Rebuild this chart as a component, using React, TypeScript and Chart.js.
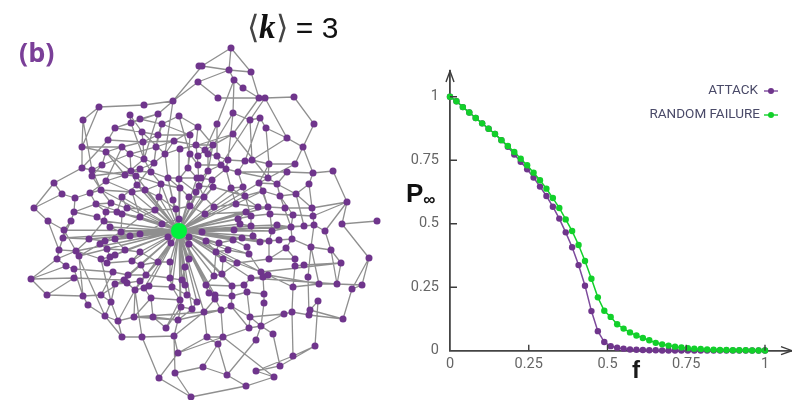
import React, { useEffect, useRef } from "react";
import { Chart, registerables } from "chart.js";

Chart.register(...registerables);

const failureFractions = Array.from({ length: 50 }, (_, i) => i / 49);

const attackValues = [1, .982, .959, .938, .916, .895, .874, .853, .829, .803, .772, .744, .714, .682, .646, .609, .567, .52, .466, .407, .337, .256, .156, .077, .034, .018, .012, .008, .005, .004, .003, .002, .002, .001, .001, .001, .001, .001, .001, .001, .001, .001, .001, .001, .001, .001, .001, .001, .001, .001];
const randomValues = [1, .982, .959, .938, .916, .895, .874, .853, .829, .806, .782, .756, .73, .701, .671, .638, .601, .562, .517, .471, .416, .353, .283, .21, .157, .133, .104, .087, .072, .06, .05, .041, .031, .025, .02, .016, .013, .01, .008, .007, .005, .004, .003, .003, .002, .002, .002, .001, .001, .001];
const tickValues = [0, 0.25, 0.5, 0.75, 1];
const tickLabels = ["0", "0.25", "0.5", "0.75", "1"];

const hubNode = [179, 231];
const nodes = [
199,66,198,82,173,101,144,105,99,107,83,120,130,115,140,119,158,114,179,116,131,123,115,128,162,124,142,132,198,127,158,135,190,135,108,140,143,142,174,141,196,145,82,147,122,147,156,147,180,149,106,152,130,154,165,154,190,154,144,159,154,163,198,156,82,168,102,165,188,168,198,165,92,170,131,171,140,169,151,172,125,175,136,176,92,176,54,183,106,181,168,178,179,179,197,178,137,185,161,184,180,188,199,186,62,194,75,198,90,193,101,190,132,192,145,190,122,197,159,197,173,200,189,197,196,192,
231,48,202,66,229,70,251,72,234,80,243,88,218,98,259,98,265,98,294,97,233,113,260,118,250,120,314,124,266,128,217,124,233,134,287,138,303,147,213,145,205,150,208,154,217,156,228,160,245,161,252,160,269,164,295,164,221,165,226,169,208,171,238,172,287,172,313,173,333,171,212,180,268,178,259,183,277,184,309,184,213,187,231,188,243,187,263,191,204,197,245,196,280,196,296,194,201,178,
34,208,48,221,74,212,71,221,96,204,111,203,127,208,106,212,117,212,122,214,97,217,104,221,140,217,155,210,176,209,190,206,179,219,162,224,110,227,64,230,63,238,89,239,121,232,140,234,130,236,115,239,105,241,100,244,168,237,171,243,189,237,189,244,59,250,76,251,79,256,107,249,125,250,140,252,115,255,110,257,57,259,101,259,107,263,132,261,141,265,158,262,170,262,189,259,66,266,74,269,185,267,113,272,128,275,146,275,31,279,74,278,170,278,182,280,124,280,115,284,127,283,140,281,185,285,135,290,149,286,144,288,172,287,47,295,83,296,101,295,151,298,187,295,180,300,197,302,111,302,88,305,181,307,192,309,105,316,134,317,153,317,118,321,178,320,166,328,122,337,142,337,174,336,178,353,175,373,159,378,191,397,
347,202,342,224,377,221,369,258,214,207,236,204,258,207,268,207,285,208,312,208,205,214,246,212,251,216,270,214,293,215,313,216,238,219,240,224,251,226,277,225,291,227,304,226,314,225,325,231,202,232,234,230,272,231,253,236,206,241,219,243,233,240,242,238,260,242,269,241,279,240,292,239,247,247,311,247,331,250,286,248,216,252,228,250,249,254,223,259,269,259,295,259,237,263,341,263,295,266,304,265,222,274,214,276,261,272,268,275,263,277,251,278,308,277,319,284,337,284,362,285,352,289,293,287,206,285,232,286,244,285,209,293,215,295,232,296,247,292,264,294,215,299,264,303,231,306,318,301,310,310,309,315,292,312,284,314,343,319,204,312,221,310,250,317,249,328,261,326,273,334,207,337,223,337,256,340,218,344,315,346,293,356,280,366,256,371,203,367,227,375,274,377,246,386,
];

const hubTargets = [
135,290,149,286,144,288,172,287,170,278,182,280,185,285,187,295,180,300,197,302,192,309,181,307,158,262,170,262,189,259,185,267,146,275,128,275,124,280,141,265,132,261,140,252,125,250,115,255,110,257,107,249,105,241,89,239,79,256,76,251,63,238,64,230,110,227,121,232,140,234,130,236,140,217,162,224,155,210,176,209,179,219,190,206,168,237,171,243,189,237,189,244,127,208,117,212,104,221,96,204,202,232,205,214,214,207,236,204,238,219,240,224,234,230,233,240,242,238,206,241,219,243,216,252,228,250,223,259,237,263,249,254,253,236,260,242,272,231,269,241,291,227,304,226,251,226,251,216,268,207,258,207,246,212,199,186,197,178,208,171,212,180,213,187,231,188,243,187,263,191,259,183,196,192,189,197,180,188,179,179,168,178,161,184,159,197,145,190,132,192,137,185,136,176,122,197,101,190,204,197,245,196,206,285,209,293,215,295,232,286,222,274,214,276,204,312,221,310,261,272,251,278,
];

const edgePaths = [
[231,48,202,66,173,101,158,114],[231,48,251,72,259,98],[231,48,229,70],[202,66,229,70,251,72],[198,82,229,70],[198,82,173,101],[198,82,218,98],[234,80,243,88,259,98],
[229,70,234,80,217,124],[218,98,259,98,265,98,294,97,314,124,303,147,287,138,265,98],[303,147,295,164,268,178],[303,147,313,173,333,171,347,202],[287,172,313,173],[238,172,287,172],
[233,113,250,120,260,118],[265,98,250,120,252,160],[259,98,233,134],[260,118,245,161],[287,138,266,128,260,118],[266,128,269,164],[287,138,252,160],[233,134,268,178],
[217,124,205,150],[234,80,233,113,228,160],[233,134,213,145,208,171],[233,134,198,145],[269,164,268,178],[287,172,277,184,259,183],[309,184,313,173],[309,184,313,216],
[347,202,342,224,377,221],[342,224,369,258,362,285,352,289,343,319,309,315],[369,258,352,289],[362,285,337,284,319,284,293,287],[337,284,331,250,325,231],[347,202,325,231],[331,250,341,263,304,265],[341,263,337,284],[313,216,347,202],
[293,287,292,312,293,356,315,346,318,301,310,310,309,315,292,312,284,314,250,317],[315,346,280,366,256,371],[293,356,256,371],[280,366,273,334,261,326,249,328],[274,377,246,386,227,375,203,367],[274,377,256,371],[227,375,256,340],[227,375,218,344],[223,337,218,344],[223,337,221,310],[223,337,274,377],
[264,303,261,326],[284,314,261,326],[311,247,319,284],[311,247,308,277],[191,397,159,378,178,353,207,337],[159,378,142,337,122,337,105,316,88,305,83,296,47,295,31,279,57,259],[47,295,74,278],[175,373,191,397],[175,373,203,367],[175,373,174,336],[191,397,246,386],
[142,337,174,336,178,320,181,307],[142,337,135,290],[122,337,118,321],[166,328,180,300],[166,328,153,317,134,317,118,321,111,302,115,284],[134,317,178,320],[105,316,111,302,101,295],[83,296,101,295,124,280],[83,296,74,269],
[31,279,66,266,57,259,76,251],[31,279,74,278],[57,259,59,250,63,238,64,230,71,221,74,212],[48,221,64,230],[34,208,48,221,59,250],[34,208,54,183],[34,208,62,194],[54,183,82,168,92,170,125,175],[54,183,62,194,75,198],[82,168,82,147,83,120,99,107,144,105,173,101],[99,107,82,147],[82,147,122,147],[82,168,108,140,115,128,131,123,158,114],[83,120,92,170],[130,115,131,123,144,159],[140,119,115,128],
[131,171,140,169,154,163,165,154,180,149,198,145],[92,176,131,171,151,172,168,178,197,178],[106,181,125,175,136,176,161,184,180,188],[102,165,130,154,156,147,174,141,196,145],[106,152,122,147,143,142,158,135,190,135],[108,140,143,142,174,141,198,127],[115,128,142,132,158,135,162,124,179,116,198,127],[131,123,140,119,162,124,190,135],[140,119,158,114,173,101],[130,115,142,132,143,142,144,159,151,172,161,184,159,197],[158,114,144,159,125,175,106,181,90,193,75,198],[162,124,156,147,154,163,137,185,122,197],[173,101,165,154,168,178,180,188,189,197],[179,116,190,154,188,168,179,179,196,192],[190,135,188,168,197,178],[198,127,196,145,198,165,199,186,204,197],[130,154,131,171,137,185,145,190,159,197],[106,152,102,165,92,176,101,190,90,193],[82,147,106,152,131,171],[92,170,102,165],[101,190,132,192,145,190,161,184],[122,147,130,154,144,159,154,163],[174,141,165,154],
[75,198,74,212,96,204,111,203,127,208,155,210,176,209,190,206],[96,204,106,212,117,212,122,214,140,217,155,210],[74,212,97,217,104,221,110,227,121,232],[111,203,106,212,104,221,89,239,76,251],[71,221,63,238,89,239,105,241,115,239,130,236,140,234,162,224,179,219],[64,230,76,251,79,256,100,244,107,249,110,257,101,259,107,263,132,261,141,265,158,262,170,262],[63,238,59,250,76,251,101,259],[57,259,66,266,74,269,113,272,128,275,146,275,170,278],[74,278,124,280,115,284,127,283,140,281,146,275],[79,256,83,296,88,305],[76,251,105,316],[101,259,111,302],[113,272,101,295],[121,232,122,214],[115,239,125,250,115,255,110,257],[107,249,125,250,140,252,132,261],[130,236,121,232,105,241],[140,252,158,262],[140,217,121,232],[162,224,140,217],[124,280,135,290,144,288,149,286,172,287,187,295],[128,275,127,283,135,290,134,317],[141,265,146,275,140,281,135,290,142,337],[151,298,144,288],[151,298,134,317],[151,298,153,317],[151,298,180,300],[118,321,135,290],[105,316,118,321],[180,300,181,307,192,309,197,302,187,295,185,285,182,280,170,278,172,287,180,300],[170,262,170,278],[158,262,146,275],[189,259,185,267,182,280],[189,244,189,259],[178,320,192,309],[178,320,153,317],[181,307,166,328],[174,336,204,312],[178,353,174,336],[178,353,223,337],[178,320,221,310],[134,317,204,312],
[206,241,219,243,233,240,242,238,260,242,269,241,279,240,292,239,311,247,331,250],[202,232,234,230,272,231,291,227,304,226,314,225,325,231],[205,214,214,207,236,204,258,207,268,207,285,208,312,208,347,202],[205,214,246,212,251,216,270,214,293,215,313,216],[238,219,240,224,251,226,277,225,291,227],[246,212,238,219],[251,216,251,226,253,236,260,242],[270,214,272,231,269,241,269,259,295,259,295,266,304,265],[293,215,291,227,292,239,286,248,269,259],[312,208,313,216,314,225,311,247,308,277],[216,252,228,250,249,254,247,247,233,240,219,243,216,252,223,259,237,263,269,259],[206,241,216,252,214,276,206,285,209,293,215,295,215,299,204,312],[223,259,222,274,214,276],[237,263,222,274],[232,286,222,274],[232,286,244,285,251,278,263,277,268,275,261,272,237,263],[232,286,232,296,231,306,221,310,204,312],[215,295,232,296,247,292,264,294],[244,285,247,292],[263,277,264,294,264,303],[268,275,293,287,295,266],[249,254,261,272],[286,248,295,259],[206,285,232,286],[221,310,231,306,250,317],[250,317,249,328,223,337,207,337],[261,326,250,317,247,292],[204,312,207,337,218,344],[261,272,341,263],[268,275,319,284],[251,278,337,284],[308,277,309,315],[231,306,249,328],[310,310,343,319],[203,367,218,344],[261,326,256,340],
[204,197,213,187,212,180,201,178,208,171,221,165,226,169,238,172,268,178,259,183,263,191,280,196,296,194],[205,150,208,154,217,156,228,160,245,161,252,160,269,164,295,164],[213,145,208,154,208,171],[217,124,217,156,221,165],[228,160,226,169,212,180],[231,188,243,187,245,196,263,191],[226,169,231,188,258,207],[238,172,243,187],[245,161,238,172],[269,164,259,183],[213,187,245,196],[204,197,214,207],[231,188,236,204],[245,196,251,216],[263,191,270,214],[280,196,293,215],[296,194,312,208],[309,184,296,194,277,184,268,178],[277,184,280,196,291,227],[259,183,268,207],[296,194,304,226],[199,186,213,187],[204,197,189,197],[198,165,221,165],[198,156,205,150],[190,206,205,214],[189,197,190,206],[176,209,159,197],[198,145,213,145],[205,150,196,145],[233,134,205,150],[250,120,221,165],[233,113,208,154],[213,145,198,127],[155,210,159,197],[140,217,132,192],[127,208,122,197],[111,203,101,190],[96,204,90,193],[176,209,173,200],[117,212,122,197],
[158,135,154,163],[142,132,165,154],[122,147,106,181],[140,169,136,176],[179,149,179,179],[190,154,198,165],[168,178,173,200],[106,181,132,192],[92,170,101,190],[106,152,125,175],
];

const PURPLE = "#6f358c";
const HUB_GREEN = "#00f23c";
const LINE_GREEN = "#12d02a";
const LINE_PURPLE = "#7d4a9c";
const EDGE = "rgba(105,105,105,0.75)";
const AXIS = "#444444";
const SANS = '"Liberation Sans", sans-serif';
const TICK_FONT = { family: '"Roboto", ' + SANS, size: 14.5 };

const toPoints = (flat: number[]) => {
  const out: { x: number; y: number }[] = [];
  for (let i = 0; i < flat.length; i += 2) out.push({ x: flat[i], y: flat[i + 1] });
  return out;
};

const buildEdges = () => {
  const out: { x: number; y: number }[] = [];
  for (const path of edgePaths) {
    out.push(...toPoints(path), { x: NaN, y: NaN });
  }
  for (const t of toPoints(hubTargets)) {
    out.push({ x: hubNode[0], y: hubNode[1] }, t, { x: NaN, y: NaN });
  }
  return out;
};

const axisDecor = {
  id: "axisDecor",
  afterDatasetsDraw(chart: any) {
    const { ctx, scales, chartArea } = chart;
    const { x, y } = scales;
    const x0 = x.getPixelForValue(0);
    const y0 = y.getPixelForValue(0);
    ctx.save();
    ctx.strokeStyle = "#3c3c3c";
    ctx.lineWidth = 1.4;
    ctx.beginPath();
    for (const v of tickValues) {
      if (v === 0) continue;
      ctx.moveTo(x.getPixelForValue(v), y0);
      ctx.lineTo(x.getPixelForValue(v), y0 - 6);
      ctx.moveTo(x0, y.getPixelForValue(v));
      ctx.lineTo(x0 + 7, y.getPixelForValue(v));
    }
    // arrow heads
    ctx.moveTo(x0 - 4, chartArea.top + 11);
    ctx.lineTo(x0, chartArea.top);
    ctx.lineTo(x0 + 4, chartArea.top + 11);
    ctx.moveTo(chartArea.right - 11, y0 - 4);
    ctx.lineTo(chartArea.right, y0);
    ctx.lineTo(chartArea.right - 11, y0 + 4);
    ctx.stroke();
    ctx.restore();
  },
};

const keyDecor = {
  id: "keyDecor",
  afterDatasetsDraw(chart: any) {
    const { ctx } = chart;
    const rows = [
      { ds: chart.data.datasets[0], right: 358, y: 91 },
      { ds: chart.data.datasets[1], right: 360, y: 115 },
    ];
    ctx.save();
    for (const r of rows) {
      ctx.font = `13.5px "Roboto", ${SANS}`;
      ctx.fillStyle = "#4a4a68";
      ctx.textAlign = "right";
      ctx.textBaseline = "middle";
      ctx.fillText(r.ds.label, r.right, r.y);
      ctx.strokeStyle = r.ds.borderColor;
      ctx.lineWidth = 1.4;
      ctx.beginPath();
      ctx.moveTo(364, r.y);
      ctx.lineTo(378, r.y);
      ctx.stroke();
      ctx.fillStyle = r.ds.pointBackgroundColor;
      ctx.beginPath();
      ctx.arc(371, r.y, 3, 0, Math.PI * 2);
      ctx.fill();
    }
    ctx.restore();
  },
};

const text = (style: React.CSSProperties, children: React.ReactNode) => (
  <div style={{ position: "absolute", whiteSpace: "nowrap", lineHeight: 1, filter: "blur(0.4px)", ...style }}>{children}</div>
);

export default function App() {
  const netRef = useRef<HTMLCanvasElement>(null);
  const curveRef = useRef<HTMLCanvasElement>(null);

  useEffect(() => {
    const net = new Chart(netRef.current!, {
      type: "scatter",
      data: {
        datasets: [
          {
            label: "hub",
            data: [{ x: hubNode[0], y: hubNode[1] }],
            pointRadius: 8,
            pointBackgroundColor: HUB_GREEN,
            pointBorderWidth: 0,
            order: 0,
          },
          {
            label: "nodes",
            data: toPoints(nodes),
            pointRadius: 3.5,
            pointBackgroundColor: PURPLE,
            pointBorderWidth: 0,
            order: 1,
          },
          {
            label: "edges",
            data: buildEdges(),
            showLine: true,
            spanGaps: false,
            pointRadius: 0,
            borderColor: EDGE,
            borderWidth: 1.3,
            order: 2,
          },
        ],
      },
      options: {
        animation: false,
        responsive: false,
        layout: { padding: 0, autoPadding: false },
        plugins: { legend: { display: false }, tooltip: { enabled: false } },
        scales: {
          x: { type: "linear", display: false, min: 0, max: 400 },
          y: { type: "linear", display: false, min: 0, max: 400, reverse: true },
        },
      },
    });

    const fixTicks = (scale: any) => {
      scale.ticks = tickValues.map((value) => ({ value }));
    };
    const curve = new Chart(curveRef.current!, {
      type: "line",
      data: {
        labels: failureFractions,
        datasets: [
          {
            label: "ATTACK",
            data: failureFractions.map((f, i) => ({ x: f, y: attackValues[i] })),
            borderColor: LINE_PURPLE,
            pointBackgroundColor: PURPLE,
            borderWidth: 1.5,
            pointRadius: 3.2,
            pointBorderWidth: 0,
            tension: 0,
            clip: false,
            order: 2,
          },
          {
            label: "RANDOM FAILURE",
            data: failureFractions.map((f, i) => ({ x: f, y: randomValues[i] })),
            borderColor: LINE_GREEN,
            pointBackgroundColor: LINE_GREEN,
            borderWidth: 1.5,
            pointRadius: 3.2,
            pointBorderWidth: 0,
            tension: 0,
            clip: false,
            order: 1,
          },
        ],
      },
      options: {
        animation: false,
        responsive: false,
        layout: { padding: { top: 71, left: 0, right: 0, bottom: 0 }, autoPadding: false },
        plugins: { legend: { display: false }, tooltip: { enabled: false } },
        scales: {
          x: {
            type: "linear",
            min: 0,
            max: 342 / 315,
            afterBuildTicks: fixTicks,
            afterFit: (s: any) => { s.height = 49.3; },
            grid: { display: false, drawTicks: false },
            border: { display: true, color: AXIS, width: 1.8 },
            ticks: {
              autoSkip: false,
              maxRotation: 0,
              padding: 5,
              color: "#666666",
              font: TICK_FONT,
              callback: (v: any) => tickLabels[tickValues.indexOf(v)] ?? "",
            },
          },
          y: {
            type: "linear",
            min: 0,
            max: 279.7 / 254,
            afterBuildTicks: fixTicks,
            afterFit: (s: any) => { s.width = 50; },
            grid: { display: false, drawTicks: false },
            border: { display: true, color: AXIS, width: 1.8 },
            ticks: {
              autoSkip: false,
              padding: 11,
              color: "#666666",
              font: TICK_FONT,
              callback: (v: any) => tickLabels[tickValues.indexOf(v)] ?? "",
            },
          },
        },
      },
      plugins: [axisDecor, keyDecor],
    });

    return () => {
      net.destroy();
      curve.destroy();
    };
  }, []);

  const canvasStyle: React.CSSProperties = { position: "absolute", top: 0, height: 400, filter: "blur(0.4px)" };
  return (
    <div style={{ position: "fixed", left: 0, top: 0, width: 792, height: 400, overflow: "hidden", background: "#fff" }}>
      <canvas ref={netRef} width={400} height={400} style={{ ...canvasStyle, left: 0, width: 400 }} />
      <canvas ref={curveRef} width={392} height={400} style={{ ...canvasStyle, left: 400, width: 392 }} />
      {text({ left: 19, top: 33, font: 'bold 27px "Open Sans", sans-serif', color: "#7a3f98" }, "(b)")}
      {text({ left: 247, top: 11, fontSize: 30, fontFamily: SANS, color: "#111" }, (
        <>
          <span style={{ fontFamily: '"DejaVu Sans"', color: "#444", fontWeight: 300, fontSize: 32 }}>⟨</span>
          <span style={{ fontFamily: '"Liberation Serif"', fontStyle: "italic", fontWeight: "bold", fontSize: 33 }}>k</span>
          <span style={{ fontFamily: '"DejaVu Sans"', color: "#444", fontWeight: 300, fontSize: 32 }}>⟩</span>
          <span> = 3</span>
        </>
      ))}
      {text({ left: 406, top: 178, font: `bold 26px ${SANS}`, color: "#111" }, (
        <>P<span style={{ fontSize: 17, position: "relative", top: 3 }}>∞</span></>
      ))}
      {text({ left: 632, top: 356, font: `bold 24px ${SANS}`, color: "#1a1a1a" }, "f")}
    </div>
  );
}
